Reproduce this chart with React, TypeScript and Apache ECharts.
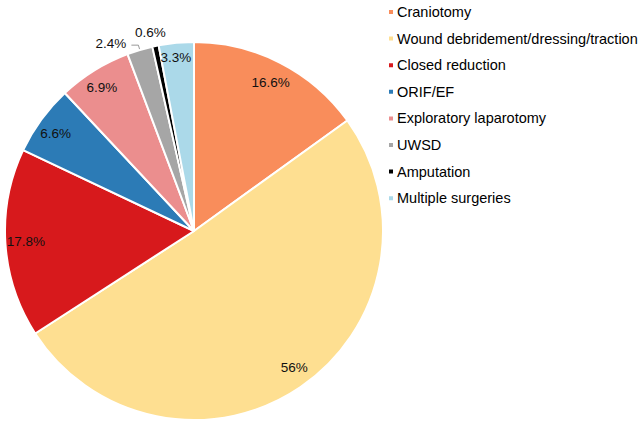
import React, { useEffect, useRef } from "react";
import * as echarts from "echarts";

const categories = [
  "Craniotomy",
  "Wound debridement/dressing/traction",
  "Closed reduction",
  "ORIF/EF",
  "Exploratory laparotomy",
  "UWSD",
  "Amputation",
  "Multiple surgeries",
];
const values = [16.6, 56, 17.8, 6.6, 6.9, 2.4, 0.6, 3.3];
const colors = ["#F98D5B", "#FEDF91", "#D7191C", "#2C7BB6", "#EB8E8E", "#A6A6A6", "#000000", "#ABD9E9"];
const outsideIdx = [5, 6];
const labelNudge: Record<number, [number, number]> = {
  0: [-2, 5],
  1: [3, -6],
  2: [4, -1],
  3: [1, 4],
  4: [-1, 3],
  5: [0, -2],
  6: [17, -6],
  7: [-2, -2],
};

export default function App() {
  const ref = useRef<HTMLDivElement>(null);
  useEffect(() => {
    document.body.style.margin = "0";
    const chart = echarts.init(ref.current!, null, { renderer: "svg" });
    const font = "'Liberation Sans', Arial, sans-serif";
    const mainData = categories.map((n, i) => ({
      name: n,
      value: values[i],
      itemStyle: { color: colors[i] },
    }));
    const labelData = categories.map((n, i) => {
      const outside = outsideIdx.includes(i);
      return {
        name: n,
        value: values[i],
        label: outside
          ? { position: "outside" as const }
          : { position: "inside" as const },
        labelLine:
          i === 5
            ? { show: true, length: 5, length2: 7 }
            : { show: false, length: 8, length2: 0 },
      };
    });
    chart.setOption({
      animation: false,
      legend: {
        orient: "vertical",
        left: 382,
        top: -1,
        icon: "rect",
        itemWidth: 6,
        itemHeight: 6,
        itemGap: 10.6,
        selectedMode: false,
        data: categories,
        textStyle: { fontFamily: font, fontSize: 14.5, color: "#000", lineHeight: 16, padding: [0, 0, 0, -2] },
      },
      series: [
        {
          type: "pie",
          center: [194, 231],
          radius: 189,
          startAngle: 90,
          clockwise: true,
          silent: true,
          label: { show: false },
          labelLine: { show: false },
          itemStyle: { borderColor: "#fff", borderWidth: 2 },
          data: mainData,
        },
        {
          type: "pie",
          center: [194, 231],
          radius: [150, 189],
          startAngle: 90,
          clockwise: true,
          silent: true,
          avoidLabelOverlap: false,
          itemStyle: { color: "rgba(0,0,0,0)", borderWidth: 0 },
          label: {
            show: true,
            formatter: "{c}%",
            fontFamily: font,
            fontSize: 13.5,
            color: "#111",
          },
          labelLine: { lineStyle: { color: "#999", width: 1 } },
          labelLayout: (p: any) => {
            const n = labelNudge[p.dataIndex];
            return n ? { dx: n[0], dy: n[1] } : {};
          },
          data: labelData,
        },
      ],
    });
    return () => chart.dispose();
  }, []);
  return <div ref={ref} style={{ width: 640, height: 427 }} />;
}
